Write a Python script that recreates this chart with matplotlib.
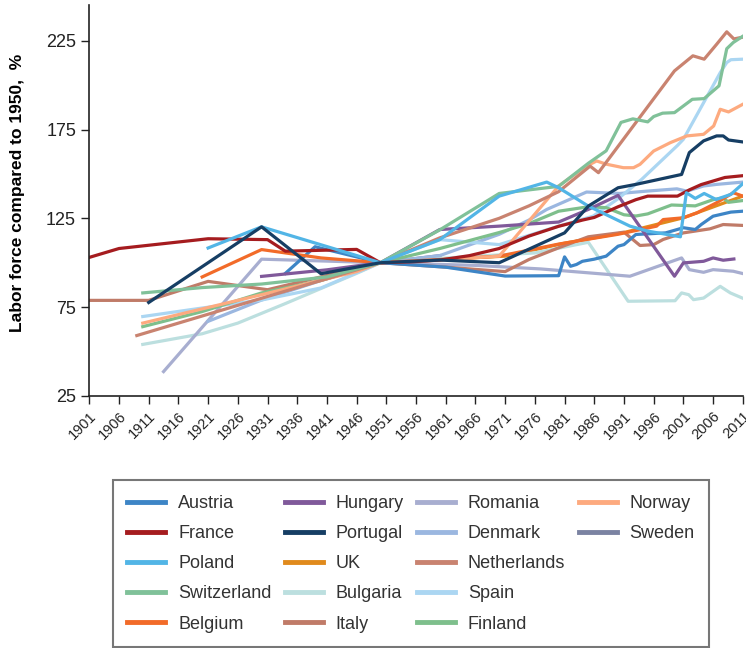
import matplotlib.pyplot as plt
from matplotlib.lines import Line2D

# values, 1950 = 100
austria_years = [1934, 1939, 1950, 1961, 1971, 1980, 1981, 1982, 1983, 1984, 1986, 1988, 1990, 1991, 1993, 1998, 2001, 2003, 2004, 2006, 2009, 2011]
austria = [94, 109, 100, 97.5, 92.5, 92.7, 103.3, 98, 99, 100.8, 102, 103.7, 109.3, 110.2, 115.9, 116.8, 119.7, 118.7, 121.5, 126.2, 128.5, 129]

france_years = [1901, 1906, 1921, 1931, 1934, 1946, 1950, 1955, 1960, 1965, 1970, 1975, 1980, 1984, 1986, 1990, 1993, 1995, 2000, 2002, 2004, 2008, 2011]
france = [103, 108, 113.5, 113, 106.5, 107.5, 100, 100.5, 101.5, 104, 108, 115, 120.5, 124, 125.5, 131.5, 135.5, 137.5, 137.5, 141, 144, 148, 149]

poland_years = [1921, 1930, 1950, 1960, 1970, 1978, 1980, 1985, 1992, 1995, 2000.5, 2001.5, 2003, 2004.5, 2006.5, 2009, 2011]
poland = [108.3, 120.2, 100, 113, 137.5, 145.4, 142.2, 131.9, 120.6, 117.8, 114.6, 139.4, 136.2, 139, 135.6, 138.5, 144.5]

switzerland_years = [1910, 1920, 1930, 1941, 1950, 1960, 1970, 1980, 1985, 1988, 1990.5, 1992.5, 1995, 1996, 1997.5, 1999.5, 2002.5, 2004.5, 2007, 2008.3, 2009.4, 2011]
switzerland = [83, 86, 88, 92, 100, 118.5, 139, 143, 156, 163, 179, 181, 179.3, 182.3, 184.2, 184.5, 192, 192.4, 199.6, 220.5, 224, 227.5]

belgium_years = [1920, 1930, 1940, 1950, 1961, 1970, 1980, 1990, 1996.5, 1997.6, 2001, 2003.3, 2006.6, 2009.4, 2011]
belgium = [92, 107.4, 102.7, 100, 102, 103.7, 110.5, 116, 120.6, 124.3, 125.3, 128.1, 133.8, 139.4, 137.5]

hungary_years = [1930, 1941, 1950, 1960, 1970, 1980, 1985, 1990, 1999.5, 2001, 2004.4, 2006, 2007.7, 2009.5]
hungary = [92.3, 96, 100, 118.7, 120.6, 122.9, 130, 137.9, 92.4, 99.9, 100.8, 102.7, 101.4, 102.1]

portugal_years = [1911, 1930, 1940, 1950, 1960, 1970, 1981, 1985, 1990, 1993, 2000.7, 2002, 2004.4, 2006.6, 2007.7, 2008.6, 2011]
portugal = [77.6, 120.2, 93.8, 100, 101.5, 100, 116.8, 131.9, 142.2, 144.1, 149.7, 162, 168.6, 171.4, 171.4, 169.1, 168]

uk_years = [1950, 1961, 1971, 1981, 1991, 2001, 2011]
uk = [100, 102, 103.7, 111, 117, 125.3, 137.5]

bulgaria_years = [1910, 1920, 1926, 1934, 1946, 1950, 1956, 1965, 1976, 1985, 1991.7, 1999.6, 2000.7, 2001.9, 2002.7, 2004.4, 2007.2, 2008.9, 2011]
bulgaria = [54, 60, 66, 77, 94, 100, 101.5, 103.5, 105.5, 111.5, 78.3, 78.6, 83, 82, 79.2, 80.1, 86.7, 83, 80]

italy_years = [1901, 1911, 1921, 1931, 1950, 1961, 1971, 1975, 1980, 1985, 1991, 1993.7, 1996, 1997.6, 2001, 2005.5, 2007.7, 2011]
italy = [78.8, 78.8, 89.5, 84.8, 100, 97.5, 95, 101.8, 108.4, 114.6, 117.2, 109.7, 110.2, 113.1, 116.8, 119.1, 121.5, 121]

romania_years = [1913.5, 1930, 1950, 1966, 1977, 1992, 2000.7, 2002, 2004.4, 2006, 2009.4, 2011]
romania = [38.7, 102, 100, 98.5, 96.5, 92.4, 102.7, 96.1, 94.6, 96.1, 95.2, 93.9]

denmark_years = [1921, 1930, 1940, 1950, 1960, 1965, 1970, 1975, 1978, 1984.7, 1990.3, 1994.8, 1999.9, 2001.6, 2004.4, 2006.6, 2011]
denmark = [67, 79, 90, 100, 104, 110, 116, 124, 130, 139.8, 139, 140.3, 141.6, 140.3, 143.2, 144.1, 145.4]

netherlands_years = [1909, 1920, 1930, 1947, 1950, 1960, 1970, 1975, 1980, 1985.3, 1986.7, 1999.5, 2002.6, 2004.5, 2006.6, 2008.3, 2009.5, 2011]
netherlands = [59, 70, 80, 97, 100, 114, 125, 132, 140, 154.4, 150.7, 208, 216.5, 214.6, 223, 230, 226, 227]

spain_years = [1910, 1920, 1930, 1940, 1950, 1960, 1970, 1980, 1985.8, 1990, 1994, 2000, 2001, 2007.2, 2008.3, 2009, 2011]
spain = [69.7, 74.5, 79, 85.8, 100, 113, 110.2, 120.6, 126.2, 136, 147, 166, 169.5, 207, 212.7, 214.3, 214.6]

finland_years = [1910, 1920, 1930, 1940, 1950, 1960, 1970, 1975, 1980, 1985, 1988, 1991, 1993, 1995, 1997, 1999, 2003, 2006, 2007.7, 2008.6, 2011]
finland = [64, 72.5, 83, 90, 100, 108, 117, 122, 129, 131.5, 131, 127, 126.3, 127.5, 130, 132.5, 132, 135.5, 136.5, 134, 135]

norway_years = [1910, 1920, 1930, 1946, 1950, 1960, 1970, 1980, 1984.7, 1986.4, 1988, 1990.9, 1992.6, 1993.7, 1996, 1998.8, 2001.6, 2004.4, 2006.1, 2007.2, 2008.6, 2011]
norway = [66, 74, 82, 95, 100, 101.5, 103.7, 143.2, 154.4, 157.3, 155.5, 153.5, 153.5, 155.4, 162.9, 167.6, 171.4, 172.3, 177, 186.4, 184.9, 189.2]

sweden_years = [1940, 1950, 1960]
sweden = [91, 100, 104]

series = [
    ("Austria", austria_years, austria, "#3d85c6"),
    ("France", france_years, france, "#a51c1f"),
    ("Poland", poland_years, poland, "#52b5e6"),
    ("Switzerland", switzerland_years, switzerland, "#80c199"),
    ("Belgium", belgium_years, belgium, "#f26b29"),
    ("Hungary", hungary_years, hungary, "#80599a"),
    ("Portugal", portugal_years, portugal, "#163e64"),
    ("UK", uk_years, uk, "#e08a1c"),
    ("Bulgaria", bulgaria_years, bulgaria, "#bcdfdf"),
    ("Italy", italy_years, italy, "#c07b68"),
    ("Romania", romania_years, romania, "#a8aed0"),
    ("Denmark", denmark_years, denmark, "#9bb7e0"),
    ("Netherlands", netherlands_years, netherlands, "#c98370"),
    ("Spain", spain_years, spain, "#abd6f2"),
    ("Finland", finland_years, finland, "#7ebf8c"),
    ("Norway", norway_years, norway, "#fdaa7f"),
    ("Sweden", sweden_years, sweden, "#7b83a2"),
]
# drawing order (bottom first)
draw_order = ["Sweden", "UK", "Bulgaria", "Romania", "Italy", "Austria", "Denmark", "Spain",
              "Finland", "Belgium", "Hungary", "Norway", "Netherlands", "Switzerland",
              "France", "Poland", "Portugal"]

plt.rcParams['font.family'] = ['Liberation Sans', 'DejaVu Sans']

fig = plt.figure(figsize=(7.46, 6.48), dpi=100)
ax = fig.add_axes([0.1197, 0.389, 0.876, 0.603])

lookup = {s[0]: s for s in series}
for name in draw_order:
    _, yrs, vals, col = lookup[name]
    ax.plot(yrs, vals, color=col, lw=2.3, solid_joinstyle='round')

ax.set_xlim(1901, 2011)
ax.set_ylim(25, 245)
ax.set_yticks([25, 75, 125, 175, 225])
ax.set_xticks(range(1901, 2012, 5))
ax.tick_params(axis='y', labelsize=13, colors='#222222', length=6, width=1)
ax.tick_params(axis='x', labelsize=10.5, colors='#222222', length=6, width=1)
plt.setp(ax.get_xticklabels(), rotation=45, ha='right', rotation_mode='anchor')
for s in ['top', 'right']:
    ax.spines[s].set_visible(False)
for s in ['left', 'bottom']:
    ax.spines[s].set_color('#222222')
    ax.spines[s].set_linewidth(1.2)
ax.set_ylabel("Labor force compared to 1950,  %", fontsize=12.5, fontweight='bold')
ax.yaxis.set_label_coords(-0.098, 0.52)

handles = [Line2D([], [], color=s[3], lw=3.5) for s in series]
labels = [s[0] for s in series]
for i in range(3):
    handles.append(Line2D([], [], color='none'))
    labels.append("")
leg = fig.legend(handles, labels, ncol=4, loc='upper left',
                 bbox_to_anchor=(0.1515, 0.2585), borderaxespad=0,
                 fontsize=13, frameon=True, fancybox=False, handlelength=2.1,
                 handletextpad=0.7, labelspacing=0.73, borderpad=0.8, columnspacing=0.75)
leg.get_frame().set_edgecolor('#555555')
leg.get_frame().set_linewidth(1.5)
for t in leg.get_texts():
    t.set_color('#333333')

fig.savefig("out.png", dpi=100)
